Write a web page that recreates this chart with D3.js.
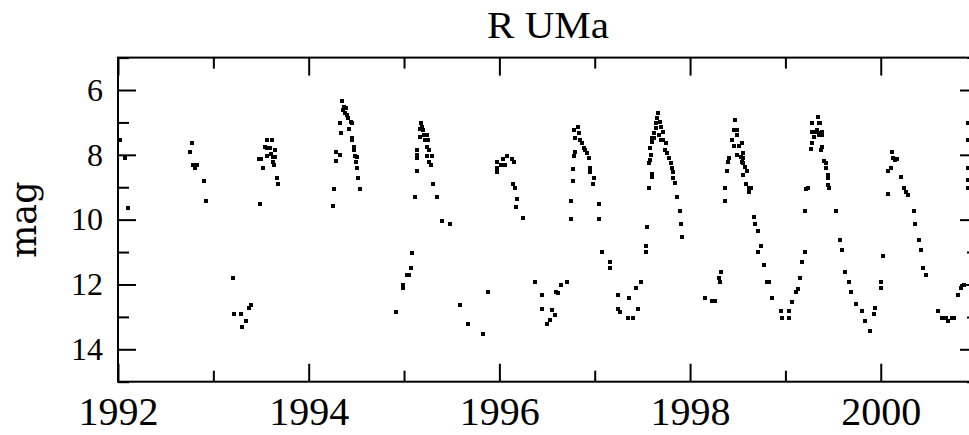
<!DOCTYPE html>
<html>
<head>
<meta charset="utf-8">
<script src="https://cdn.jsdelivr.net/npm/d3@7"></script>
<style>
  body { margin: 0; background: #fff; }
  svg { display: block; }
  text { font-family: "Liberation Serif", serif; fill: #000; }
</style>
</head>
<body>
<div id="chart"></div>
<script>
const dates = [
  1992.02, 1992.07, 1992.10, 1992.75, 1992.78, 1992.79, 1992.83, 1992.81, 1992.90, 1992.92,
  1993.21, 1993.22, 1993.29, 1993.30, 1993.34, 1993.37, 1993.40,
  1993.48, 1993.49, 1993.50, 1993.52, 1993.54, 1993.56, 1993.56, 1993.56, 1993.59, 1993.60,
  1993.62, 1993.63, 1993.63, 1993.64, 1993.65, 1993.65, 1993.67, 1993.68,
  1994.25, 1994.27, 1994.29, 1994.29, 1994.33, 1994.33, 1994.34, 1994.35, 1994.36, 1994.37,
  1994.38, 1994.39, 1994.40, 1994.41, 1994.42, 1994.44, 1994.45, 1994.45, 1994.45, 1994.48,
  1994.48, 1994.49, 1994.50, 1994.51, 1994.51, 1994.52, 1994.54,
  1994.92, 1994.99, 1994.99, 1995.03, 1995.05, 1995.07, 1995.08, 1995.12, 1995.14, 1995.14,
  1995.14, 1995.14, 1995.17, 1995.17, 1995.18, 1995.19, 1995.20, 1995.21, 1995.22, 1995.24,
  1995.24, 1995.24, 1995.25, 1995.26, 1995.26, 1995.28, 1995.29, 1995.30, 1995.35, 1995.40,
  1995.48, 1995.59, 1995.67, 1995.83, 1995.88,
  1995.97, 1995.97, 1995.98, 1996.02, 1996.04, 1996.06, 1996.08, 1996.13, 1996.14, 1996.15,
  1996.16, 1996.17, 1996.19, 1996.25,
  1996.37, 1996.45, 1996.45, 1996.50, 1996.53, 1996.55, 1996.58, 1996.59, 1996.62, 1996.65,
  1996.71, 1996.75, 1996.75, 1996.77, 1996.77, 1996.78, 1996.79, 1996.78, 1996.82, 1996.83,
  1996.79, 1996.85, 1996.87, 1996.89, 1996.90, 1996.92, 1996.94, 1996.95, 1996.95, 1996.99,
  1996.98, 1997.04, 1997.04, 1997.08, 1997.16, 1997.16,
  1997.24, 1997.24, 1997.27, 1997.35, 1997.40, 1997.36, 1997.45, 1997.43, 1997.49, 1997.54,
  1997.54, 1997.55, 1997.57, 1997.60, 1997.60, 1997.57, 1997.58, 1997.59, 1997.58, 1997.60,
  1997.62, 1997.66, 1997.65, 1997.64, 1997.68, 1997.70, 1997.64, 1997.72, 1997.62, 1997.67,
  1997.60, 1997.69, 1997.72, 1997.75, 1997.74, 1997.76, 1997.78, 1997.80, 1997.81, 1997.82,
  1997.82, 1997.84, 1997.86, 1997.89, 1997.90, 1997.92,
  1998.16, 1998.23, 1998.26, 1998.30, 1998.31, 1998.32, 1998.37, 1998.37, 1998.39, 1998.40,
  1998.41, 1998.44, 1998.46, 1998.46, 1998.47, 1998.49, 1998.49, 1998.49, 1998.51, 1998.53,
  1998.54, 1998.54, 1998.55, 1998.56, 1998.56, 1998.56, 1998.58, 1998.59, 1998.60, 1998.62,
  1998.62, 1998.64, 1998.67, 1998.68, 1998.71, 1998.71, 1998.74, 1998.78, 1998.81, 1998.83,
  1998.86, 1998.95, 1998.96,
  1999.04, 1999.04, 1999.07, 1999.11, 1999.13, 1999.15, 1999.17, 1999.21, 1999.21, 1999.22,
  1999.24, 1999.27, 1999.28, 1999.28, 1999.28, 1999.30, 1999.32, 1999.33, 1999.34, 1999.35,
  1999.35, 1999.35, 1999.36, 1999.38, 1999.38, 1999.38, 1999.37, 1999.41, 1999.43, 1999.43,
  1999.45, 1999.45, 1999.45, 1999.46, 1999.53, 1999.57, 1999.59, 1999.63, 1999.67, 1999.69,
  1999.74, 1999.80, 1999.84, 1999.89, 1999.93, 1999.94,
  2000.00, 2000.00, 2000.02, 2000.08, 2000.08, 2000.11, 2000.12, 2000.13, 2000.15, 2000.17,
  2000.21, 2000.24, 2000.26, 2000.29, 2000.35, 2000.36, 2000.40, 2000.42, 2000.44, 2000.47,
  2000.60, 2000.64, 2000.68, 2000.71, 2000.75, 2000.77, 2000.81, 2000.84, 2000.87,
  2000.91, 2000.91, 2000.91, 2000.91, 2000.92
];
const mags = [
  7.55, 8.11, 9.63, 7.92, 7.65, 8.31, 8.31, 8.42, 8.81, 9.42,
  11.81, 12.92, 12.92, 13.32, 13.12, 12.73, 12.62,
  8.14, 9.53, 8.14, 8.42, 7.75, 7.54, 7.80, 8.04, 7.80, 7.97,
  7.54, 8.06, 8.21, 8.31, 7.85, 8.06, 8.70, 8.91,
  9.57, 9.05, 7.92, 8.19, 7.03, 8.01, 7.34, 6.33, 6.62, 6.51,
  6.72, 6.56, 6.77, 6.87, 7.21, 6.98, 7.03, 7.49, 7.54, 7.75,
  7.85, 8.04, 8.21, 8.08, 8.42, 8.72, 9.05,
  12.84, 12.02, 12.12, 11.71, 11.71, 11.50, 11.02, 9.31, 7.85, 8.01,
  8.11, 8.50, 7.21, 7.44, 7.03, 7.13, 7.23, 7.39, 7.54, 7.39,
  7.75, 8.04, 7.54, 7.85, 8.21, 8.31, 8.04, 8.91, 9.31, 10.03,
  10.13, 12.63, 13.23, 13.54, 12.22,
  8.21, 8.52, 8.42, 8.31, 8.14, 8.31, 8.04, 8.14, 8.91, 8.21,
  9.03, 9.62, 9.37, 9.96,
  11.91, 12.32, 12.76, 13.23, 13.10, 12.79, 12.94, 12.22, 12.25, 12.02,
  11.91, 9.99, 9.42, 8.81, 8.45, 8.04, 7.90, 7.23, 7.13, 7.34,
  7.49, 7.54, 7.65, 7.80, 7.85, 7.95, 8.11, 8.42, 8.52, 8.72,
  8.91, 9.53, 9.99, 11.01, 11.30, 11.50,
  12.32, 12.76, 12.84, 13.03, 13.03, 12.43, 12.76, 12.12, 11.91, 11.01,
  10.81, 10.22, 9.01, 8.68, 8.60, 8.26, 8.16, 8.01, 7.80, 7.59,
  7.49, 6.72, 6.87, 7.03, 6.98, 7.13, 7.18, 7.29, 7.34, 7.39,
  7.49, 7.54, 7.54, 7.65, 7.85, 7.95, 8.11, 8.26, 8.42, 8.52,
  8.72, 8.88, 9.29, 9.72, 10.13, 10.53,
  12.43, 12.51, 12.51, 11.81, 11.91, 11.60, 9.42, 9.01, 8.50, 8.21,
  8.11, 7.54, 7.23, 7.73, 6.92, 7.23, 7.39, 8.01, 7.73, 8.08,
  7.62, 8.21, 8.11, 7.95, 8.26, 8.62, 8.39, 8.91, 8.49, 9.03,
  9.14, 9.03, 9.93, 10.13, 10.34, 11.01, 10.81, 11.40, 11.91, 11.91,
  12.43, 12.82, 13.03,
  12.82, 13.03, 12.53, 12.22, 12.15, 11.81, 11.31, 11.01, 9.72, 9.05,
  9.01, 7.83, 7.65, 7.03, 7.29, 7.44, 7.29, 7.23, 6.82, 7.03,
  7.34, 7.39, 7.03, 7.29, 7.39, 7.75, 7.85, 8.19, 8.26, 8.42,
  8.62, 8.72, 8.93, 9.03, 9.72, 10.63, 10.94, 11.60, 11.91, 12.22,
  12.61, 12.82, 13.12, 13.43, 12.92, 12.74,
  11.91, 12.12, 11.11, 9.22, 8.49, 8.42, 7.90, 8.11, 8.16, 8.14,
  8.68, 9.03, 9.14, 9.24, 9.72, 10.13, 10.63, 10.94, 11.50, 11.71,
  12.82, 13.03, 13.03, 13.12, 13.03, 13.03, 12.32, 12.12, 12.02,
  7.03, 7.54, 8.42, 8.78, 9.01
];

const yearMajor = [1992, 1994, 1996, 1998, 2000];
const yearMinor = [1993, 1995, 1997, 1999, 2001];
const magMajor = [6, 8, 10, 12, 14];
const magMinor = [5, 7, 9, 11, 13, 15];

const title = "R UMa";
const yLabel = "mag";

let W = 969, H = 435;
let L = 118, R = 978, T = 57.6, B = 381.7;
let bigTick = 18, smallTick = 11;

let svg = d3.select("#chart").append("svg")
    .attr("width", W).attr("height", H);

let x = d3.scaleLinear().domain([1992, 2001.02]).range([L, R]);
let y = d3.scaleLinear().domain([5, 15]).range([T, B]);

// ticks on all four sides, pointing into the frame
function addAxis(axis, tx, ty, labels) {
    let g = svg.append("g").attr("transform", `translate(${tx},${ty})`).call(axis);
    g.select(".domain").remove();
    g.selectAll(".tick line").attr("stroke", "#000").attr("stroke-width", 2);
    if (!labels) g.selectAll(".tick text").remove();
    return g;
}

let bottom = addAxis(d3.axisBottom(x).tickValues(yearMajor).tickSize(-bigTick).tickPadding(15).tickFormat(d3.format("d")), 0, B, true);
bottom.selectAll("text").style("font-size", "40px").style("font-family", "Liberation Serif");
addAxis(d3.axisBottom(x).tickValues(yearMinor).tickSize(-smallTick), 0, B, false);
addAxis(d3.axisTop(x).tickValues(yearMajor).tickSize(-bigTick), 0, T, false);
addAxis(d3.axisTop(x).tickValues(yearMinor).tickSize(-smallTick), 0, T, false);

let left = addAxis(d3.axisLeft(y).tickValues(magMajor).tickSize(-bigTick).tickPadding(15).tickFormat(d3.format("d")), L, 0, true);
left.selectAll("text").style("font-size", "32px").style("font-family", "Liberation Serif");
addAxis(d3.axisLeft(y).tickValues(magMinor).tickSize(-smallTick), L, 0, false);
addAxis(d3.axisRight(y).tickValues(magMajor).tickSize(-bigTick), R, 0, false);
addAxis(d3.axisRight(y).tickValues(magMinor).tickSize(-smallTick), R, 0, false);

svg.append("rect")
    .attr("x", L).attr("y", T).attr("width", R - L).attr("height", B - T)
    .attr("fill", "none").attr("stroke", "#000").attr("stroke-width", 2);

// observations as small filled squares
let pts = dates.map((d, i) => ({ t: d, m: mags[i] }));
let s = 4;
svg.append("g").selectAll("rect")
    .data(pts).enter().append("rect")
    .attr("x", d => x(d.t) - s / 2)
    .attr("y", d => y(d.m) - s / 2)
    .attr("width", s).attr("height", s)
    .attr("fill", "#000")
    .attr("shape-rendering", "crispEdges");

svg.append("text")
    .attr("x", (L + R) / 2).attr("y", 38)
    .attr("text-anchor", "middle")
    .attr("textLength", 122)
    .attr("lengthAdjust", "spacingAndGlyphs")
    .style("font-size", "37px")
    .text(title);

svg.append("text")
    .attr("transform", `translate(36,${(T + B) / 2}) rotate(-90)`)
    .attr("text-anchor", "middle")
    .style("font-family", "DejaVu Serif")
    .style("font-size", "35px")
    .text(yLabel);
</script>
</body>
</html>
